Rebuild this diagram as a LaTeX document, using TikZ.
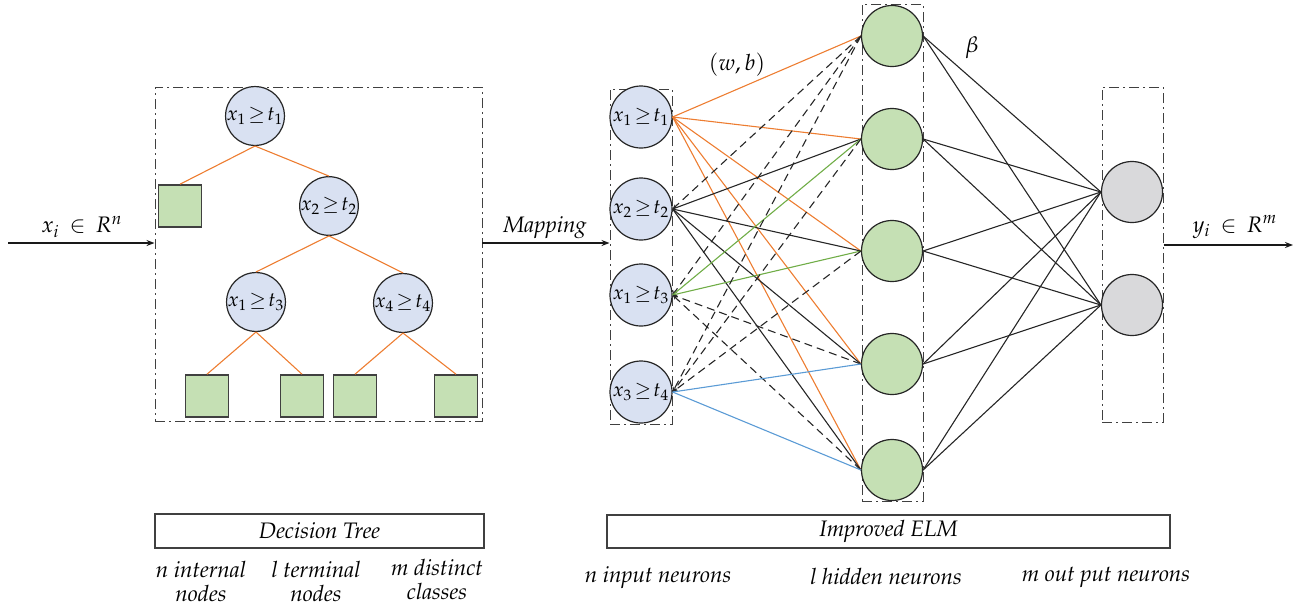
\documentclass[tikz,border=0pt]{standalone}
\usepackage[T1]{fontenc}
\usepackage{mathpazo}
\usetikzlibrary{arrows.meta}
\definecolor{nblue}{HTML}{D9E1F2}
\definecolor{ngreen}{HTML}{C5E0B4}
\definecolor{ngray}{HTML}{D9D9DB}
\definecolor{lorange}{HTML}{ED7D31}
\definecolor{lgreen}{HTML}{70AD47}
\definecolor{lblue}{HTML}{5B9BD5}
\begin{document}
\begin{tikzpicture}[x=0.5pt,y=-0.5pt,
  font=\fontsize{11.2}{13}\selectfont\itshape,
  nfont/.style={font=\fontsize{10}{12}\selectfont},
  tnode/.style={nfont,circle,draw=black!85,fill=nblue,minimum size=26.5pt,inner sep=0pt,line width=0.6pt},
  inode/.style={nfont,circle,draw=black!85,fill=nblue,minimum size=31pt,inner sep=0pt,line width=0.6pt},
  hnode/.style={circle,draw=black!85,fill=ngreen,minimum size=30.5pt,inner sep=0pt,line width=0.6pt},
  onode/.style={circle,draw=black!85,fill=ngray,minimum size=30.5pt,inner sep=0pt,line width=0.6pt},
  leaf/.style={rectangle,draw=black!75,fill=ngreen,minimum width=21.5pt,minimum height=21pt,inner sep=0pt,line width=0.8pt},
  dbox/.style={draw=black!75,line width=0.5pt,dash pattern=on 5pt off 2pt on 1pt off 2pt,inner sep=0pt},
  lbox/.style={draw=black!75,line width=0.6pt,inner sep=0pt},
  tedge/.style={lorange,line width=0.55pt},
  oe/.style={lorange,line width=0.55pt},
  be/.style={black!85,line width=0.55pt},
  ge/.style={lgreen,line width=0.55pt},
  ble/.style={lblue,line width=0.55pt},
  de/.style={black!85,line width=0.55pt,dash pattern=on 4pt off 2.5pt,-{Stealth[length=2.5pt,width=2pt]}},
  flow/.style={black!90,line width=0.7pt,-{Stealth[length=4pt,width=3pt]}},
  lbl/.style={align=center,inner sep=0pt}
]
\useasboundingbox (0,0) rectangle (1299,606);

% ---------- Decision tree ----------
\node[dbox,minimum width=163.5pt,minimum height=167pt] (tbox) at (318.5,254) {};
\node[tnode] (r) at (255,116) {$x_1\!\geq\! t_1$};
\node[tnode] (n2) at (329,206) {$x_2\!\geq\! t_2$};
\node[tnode] (n3) at (256,302) {$x_1\!\geq\! t_3$};
\node[tnode] (n4) at (403,303) {$x_4\!\geq\! t_4$};
\node[leaf] (l1) at (180,206) {};
\node[leaf] (l2) at (207,396) {};
\node[leaf] (l3) at (302,396) {};
\node[leaf] (l4) at (355,396) {};
\node[leaf] (l5) at (456,396) {};
\draw[tedge] (r.south) -- (l1.north);
\draw[tedge] (r.south) -- (n2.north);
\draw[tedge] (n2.south) -- (n3.north);
\draw[tedge] (n2.south) -- (n4.north);
\draw[tedge] (n3.south) -- (l2.north);
\draw[tedge] (n3.south) -- (l3.north);
\draw[tedge] (n4.south) -- (l4.north);
\draw[tedge] (n4.south) -- (l5.north);

% ---------- input arrow ----------
\coordinate (xin) at (8,243);
\draw[flow] (xin) -- (xin -| tbox.west);
\node[lbl] (xlab) at (82,227) {$x_i\,\in\,R^n$};

% ---------- ELM ----------
\node[dbox,minimum width=31pt,minimum height=167.5pt] (ibox) at (641,256.5) {};
\node[dbox,minimum width=30.5pt,minimum height=248.5pt] (hbox) at (892.5,252.5) {};
\node[dbox,minimum width=30.5pt,minimum height=167.5pt] (obox) at (1132.5,254.5) {};

\coordinate (mapstart) at (482,243);
\draw[flow] (mapstart) -- (mapstart -| ibox.west);
\node[lbl] (maplab) at (545,227) {Mapping};

\node[inode] (i1) at (641,117) {$x_1\!\geq\! t_1$};
\node[inode] (i2) at (641,209) {$x_2\!\geq\! t_2$};
\node[inode] (i3) at (641,295) {$x_1\!\geq\! t_3$};
\node[inode] (i4) at (641,392) {$x_3\!\geq\! t_4$};

\node[hnode] (h1) at (892,36) {};
\node[hnode] (h2) at (892,139) {};
\node[hnode] (h3) at (892,251) {};
\node[hnode] (h4) at (892,364) {};
\node[hnode] (h5) at (892,470) {};

\node[onode] (o1) at (1132,192) {};
\node[onode] (o2) at (1132,305) {};

% input -> hidden
\foreach \h in {1,...,5} {\draw[oe] (i1.east) -- (h\h.west);}
\draw[de] (h1.west) -- (i2.east);
\foreach \h in {2,...,5} {\draw[be] (i2.east) -- (h\h.west);}
\draw[de] (h1.west) -- (i3.east);
\draw[ge] (i3.east) -- (h2.west);
\draw[ge] (i3.east) -- (h3.west);
\draw[de] (h4.west) -- (i3.east);
\draw[de] (h5.west) -- (i3.east);
\draw[de] (h1.west) -- (i4.east);
\draw[de] (h2.west) -- (i4.east);
\draw[de] (h3.west) -- (i4.east);
\draw[ble] (i4.east) -- (h4.west);
\draw[ble] (i4.east) -- (h5.west);

% hidden -> output
\foreach \h in {1,...,5} {
  \draw[be] (h\h.east) -- (o1.west);
  \draw[be] (h\h.east) -- (o2.west);
}

\node[lbl] (wb) at (737,65) {$(w,b)$};
\node[lbl] (beta) at (972,48) {$\beta$};

\coordinate (yout) at (1293,245);
\draw[flow] (yout -| obox.east) -- (yout);
\node[lbl] (ylab) at (1235,227) {$y_i\,\in\,R^m$};

% ---------- bottom labels ----------
\node[lbl,lbox,minimum width=164.5pt,minimum height=17pt] (dtbox) at (319.5,531) {Decision Tree};
\node[lbl,lbox,minimum width=281.5pt,minimum height=16.5pt] (elmbox) at (888.5,531.5) {Improved ELM};

\node[lbl] (t1) at (201,582) {n internal\\[-1pt]nodes};
\node[lbl] (t2) at (316,582) {l terminal\\[-1pt]nodes};
\node[lbl] (t3) at (437,580) {m distinct\\[-1pt]classes};

\node[lbl] (e1) at (658,577) {n input neurons};
\node[lbl] (e2) at (886,577) {l hidden neurons};
\node[lbl] (e3) at (1106,577) {m out put neurons};
\end{tikzpicture}
\end{document}
